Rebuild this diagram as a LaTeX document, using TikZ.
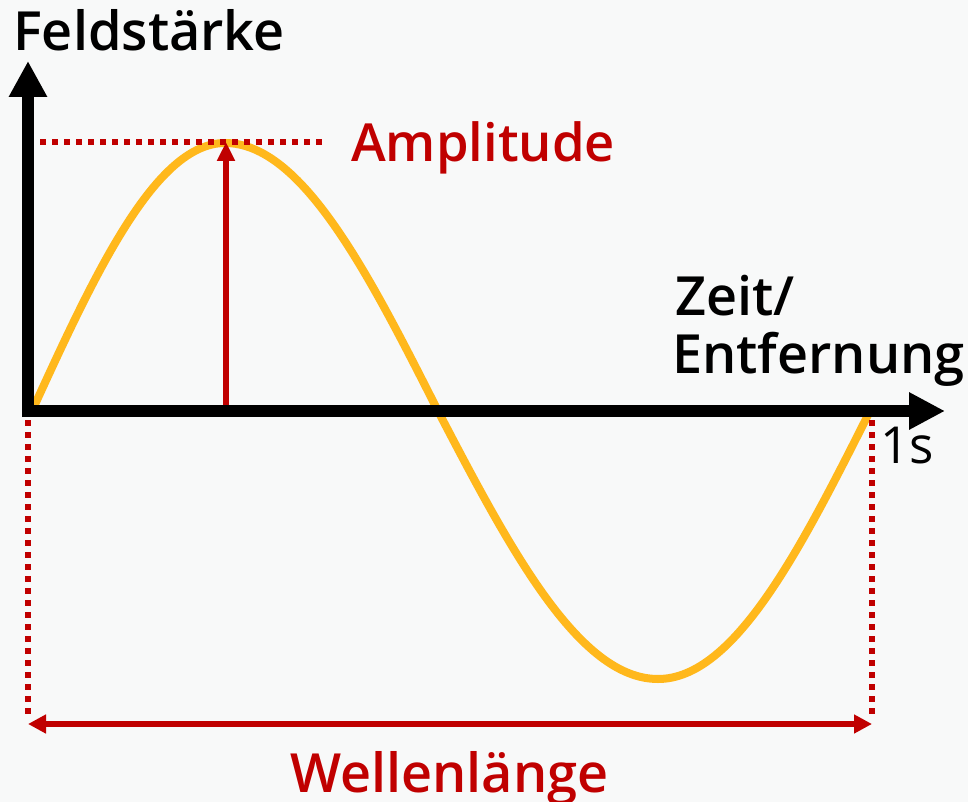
\documentclass[tikz,border=0pt]{standalone}
\usepackage{fontspec}
\setmainfont{Open Sans}
\newcommand\lblsize{54}
\IfFontExistsTF{Open Sans Semibold}{\newfontfamily\sbfont{Open Sans Semibold}}{%
 \IfFontExistsTF{OpenSans-Semibold}{\newfontfamily\sbfont{OpenSans-Semibold}}{%
  \IfFontExistsTF{OpenSans-SemiBold}{\newfontfamily\sbfont{OpenSans-SemiBold}}{%
   \newfontfamily\sbfont{Open Sans}[UprightFont=*-Bold]\renewcommand\lblsize{51}}}}
\usetikzlibrary{arrows.meta}
\definecolor{bgc}{RGB}{248,249,249}
\definecolor{wred}{RGB}{192,0,0}
\definecolor{wyel}{RGB}{255,184,28}
\tikzset{
  axisline/.style={line width=12pt, black, -{Triangle[length=36pt,width=35pt]}},
  redarrow/.style={line width=6pt, wred},
  reddots/.style={line width=6pt, wred, dash pattern=on 6pt off 6pt},
  wave/.style={line width=8pt, wyel},
  lbl/.style={inner sep=0pt, anchor=base west, font=\sbfont\fontsize{\lblsize}{58}\selectfont},
  redlbl/.style={lbl, text=wred},
}
\begin{document}
\begin{tikzpicture}[x=1pt,y=-1pt]
\fill[bgc] (0,0) rectangle (968,802);
\useasboundingbox (0,0) rectangle (968,802);
% coordinates
\coordinate (O) at (32,411);
\coordinate (P) at (225,143);
\coordinate (Z) at (438,411);
\coordinate (T) at (658,679);
\coordinate (E) at (870,411);
% sine wave
\draw[wave] (O) .. controls (94.9,273.7) and (155.2,143) .. (P)
  .. controls (302.1,143) and (368.5,273.7) .. (Z)
  .. controls (509.7,548.3) and (578.4,679) .. (T)
  .. controls (734.7,679) and (800.9,548.3) .. (E);
% dotted guides
\coordinate (d1a) at (40,142); \coordinate (d1b) at (322,142);
\coordinate (d2a) at (28,420); \coordinate (d2b) at (28,718);
\coordinate (d3a) at (872,420); \coordinate (d3b) at (872,718);
\draw[reddots] (d1a) -- (d1b);
\draw[reddots] (d2a) -- (d2b);
\draw[reddots] (d3a) -- (d3b);
% amplitude arrow
\coordinate (a1) at (226,405); \coordinate (a2) at (226,142);
\draw[redarrow, -{Triangle[length=19pt,width=17pt]}] (a1) -- (a2);
% axes
\coordinate (xa) at (22,411); \coordinate (xb) at (945,411);
\coordinate (ya) at (28,417); \coordinate (yb) at (28,61);
\draw[axisline] (xa) -- (xb);
\draw[axisline, -{Triangle[length=36pt,width=36pt]}] (ya) -- (yb);
% wavelength arrow
\coordinate (w1) at (28,724); \coordinate (w2) at (872,724);
\draw[redarrow, {Triangle[length=18pt,width=18pt]}-{Triangle[length=18pt,width=18pt]}] (w1) -- (w2);
% labels
\node[lbl] (feld) at (13,51) {Feldstärke};
\node[redlbl, font=\sbfont\fontsize{52.5}{58}\selectfont] (ampl) at (351,162) {Amplitude};
\node[lbl] (zeit) at (675,315) {Zeit/};
\node[lbl] (entf) at (672,373) {Entfernung};
\node[inner sep=0pt, anchor=base west, font=\fontsize{51}{55}\selectfont] (sek) at (880,463) {1s};
\node[redlbl] (welle) at (290,792) {Wellenlänge};
\end{tikzpicture}
\end{document}
